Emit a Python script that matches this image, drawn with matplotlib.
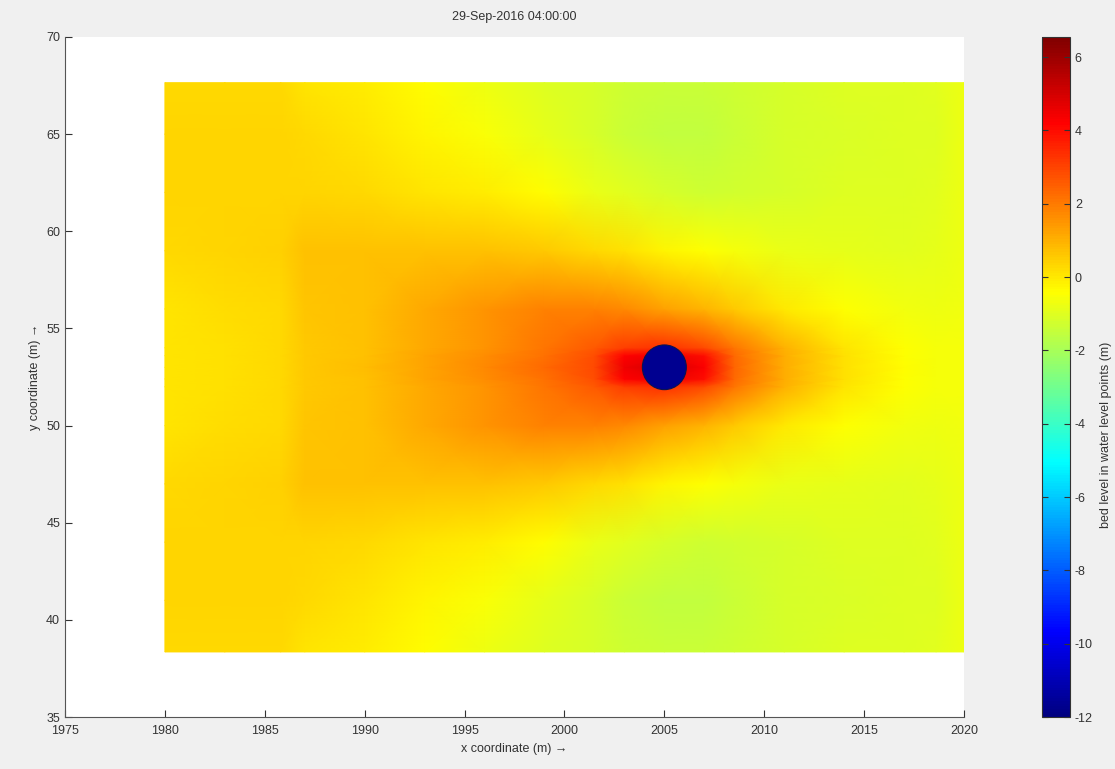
import numpy as np
import matplotlib
matplotlib.use('Agg')
import matplotlib.pyplot as plt
from matplotlib.patches import Ellipse
from matplotlib.colors import Normalize, LinearSegmentedColormap

plt.rcParams['font.family'] = ['Liberation Sans Narrow', 'Liberation Sans', 'DejaVu Sans']
plt.rcParams['axes.unicode_minus'] = False

# grid nodes (m)
x_nodes = [1980, 1983, 1985.8, 1987, 1990, 1993, 1996, 1999, 2001.5, 2003, 2005, 2007, 2008.5, 2011, 2014, 2017, 2018.6, 2020]
y_nodes = [38.35, 41, 44, 47, 50, 52, 52.4, 53, 53.6, 54, 56, 59, 62, 65, 67.65]

# bed level, one row per y node (bottom to top)
bed = [
    [0.30, 0.30, 0.25, 0.10, -0.10, -0.40, -0.70, -1.00, -1.20, -1.30, -1.35, -1.35, -1.30, -1.15, -1.05, -1.00, -0.95, -0.75],
    [0.35, 0.35, 0.35, 0.25, 0.10, -0.20, -0.50, -0.90, -1.20, -1.35, -1.50, -1.55, -1.40, -1.20, -1.10, -1.05, -1.00, -0.75],
    [0.35, 0.35, 0.35, 0.35, 0.25, 0.10, -0.10, -0.40, -0.80, -0.95, -1.20, -1.30, -1.25, -1.15, -1.05, -1.00, -0.95, -0.75],
    [0.30, 0.35, 0.40, 0.70, 0.75, 0.75, 0.70, 0.60, 0.30, 0.15, -0.20, -0.45, -0.60, -0.80, -0.90, -0.95, -0.90, -0.75],
    [0.10, 0.20, 0.30, 0.65, 0.75, 1.15, 1.50, 1.90, 1.85, 1.70, 1.30, 0.90, 0.55, 0.00, -0.45, -0.65, -0.70, -0.65],
    [0.05, 0.12, 0.25, 0.55, 0.75, 1.15, 1.55, 2.10, 2.60, 3.10, 3.30, 2.90, 2.10, 1.00, 0.10, -0.45, -0.60, -0.60],
    [0.05, 0.12, 0.25, 0.55, 0.75, 1.20, 1.65, 2.20, 2.80, 4.20, 4.50, 4.00, 2.30, 1.05, 0.12, -0.42, -0.58, -0.60],
    [0.05, 0.12, 0.25, 0.55, 0.78, 1.20, 1.70, 2.30, 2.90, 4.50, 5.00, 4.30, 2.40, 1.10, 0.15, -0.40, -0.58, -0.60],
    [0.05, 0.12, 0.25, 0.55, 0.75, 1.20, 1.65, 2.20, 2.80, 4.20, 4.50, 4.00, 2.30, 1.05, 0.12, -0.42, -0.58, -0.60],
    [0.05, 0.12, 0.25, 0.55, 0.75, 1.15, 1.55, 2.10, 2.60, 3.10, 3.30, 2.90, 2.10, 1.00, 0.10, -0.45, -0.60, -0.60],
    [0.10, 0.20, 0.30, 0.65, 0.75, 1.15, 1.50, 1.90, 1.85, 1.70, 1.30, 0.90, 0.55, 0.00, -0.45, -0.65, -0.70, -0.65],
    [0.30, 0.35, 0.40, 0.70, 0.75, 0.75, 0.70, 0.60, 0.30, 0.15, -0.20, -0.45, -0.60, -0.80, -0.90, -0.95, -0.90, -0.75],
    [0.35, 0.35, 0.35, 0.35, 0.25, 0.10, -0.10, -0.40, -0.80, -0.95, -1.20, -1.30, -1.25, -1.15, -1.05, -1.00, -0.95, -0.75],
    [0.35, 0.35, 0.35, 0.25, 0.10, -0.20, -0.50, -0.90, -1.20, -1.35, -1.50, -1.55, -1.40, -1.20, -1.10, -1.05, -1.00, -0.75],
    [0.30, 0.30, 0.25, 0.10, -0.10, -0.40, -0.70, -1.00, -1.20, -1.30, -1.35, -1.35, -1.30, -1.15, -1.05, -1.00, -0.95, -0.75],
]

# scour hole / structure
pile_x, pile_y = 2005, 53
pile_w, pile_h = 2.2, 2.3
pile_level = -11.7

clim = (-12, 6.55)
cbar_ticks = [-12, -10, -8, -6, -4, -2, 0, 2, 4, 6]
x_ticks = [1975, 1980, 1985, 1990, 1995, 2000, 2005, 2010, 2015, 2020]
y_ticks = [35, 40, 45, 50, 55, 60, 65, 70]

# MATLAB style jet
mjet = LinearSegmentedColormap('mjet', {
    'red':   [(0, 0, 0), (0.375, 0, 0), (0.625, 1, 1), (0.875, 1, 1), (1, 0.5, 0.5)],
    'green': [(0, 0, 0), (0.125, 0, 0), (0.375, 1, 1), (0.625, 1, 1), (0.875, 0, 0), (1, 0, 0)],
    'blue':  [(0, 0.5, 0.5), (0.125, 1, 1), (0.375, 1, 1), (0.625, 0, 0), (1, 0, 0)],
}, N=256)

fig = plt.figure(figsize=(11.15, 7.69), dpi=100, facecolor='#f0f0f0')
ax = fig.add_axes([0.0583, 0.0676, 0.8063, 0.8843])
ax.set_facecolor('white')

X, Y = np.meshgrid(x_nodes, y_nodes)
norm = Normalize(*clim)
mesh = ax.pcolormesh(X, Y, np.array(bed), cmap=mjet, norm=norm, shading='gouraud')

pile = Ellipse((pile_x, pile_y), pile_w, pile_h, facecolor=mjet(norm(pile_level)),
               edgecolor='#0a1450', linewidth=0.8)
ax.add_patch(pile)

ax.set_xlim(1975, 2020)
ax.set_ylim(35, 70)
ax.set_xticks(x_ticks)
ax.set_yticks(y_ticks)
for s in ['top', 'right']:
    ax.spines[s].set_visible(False)
for s in ['left', 'bottom']:
    ax.spines[s].set_color('#555555')
ax.tick_params(direction='in', length=5, labelsize=9, colors='#333333')
ax.tick_params(axis='x', pad=6)
ax.set_xlabel('x coordinate (m) \u2192', fontsize=9, color='#333333', labelpad=4)
ax.set_ylabel('y coordinate (m) \u2192', fontsize=9, color='#333333', labelpad=4)
ax.set_title('29-Sep-2016 04:00:00', fontsize=9, color='#333333', pad=12)

cax = fig.add_axes([0.9345, 0.0676, 0.0251, 0.8843])
cb = fig.colorbar(mesh, cax=cax, ticks=cbar_ticks)
cb.ax.tick_params(direction='in', length=4, labelsize=9, colors='#333333', left=True)
cb.outline.set_edgecolor('#333333')
fig.text(0.992, 0.435, 'bed level in water level points (m)', rotation=90,
         ha='center', va='center', fontsize=9, color='#333333')

fig.savefig('out.png', dpi=100, facecolor=fig.get_facecolor())
